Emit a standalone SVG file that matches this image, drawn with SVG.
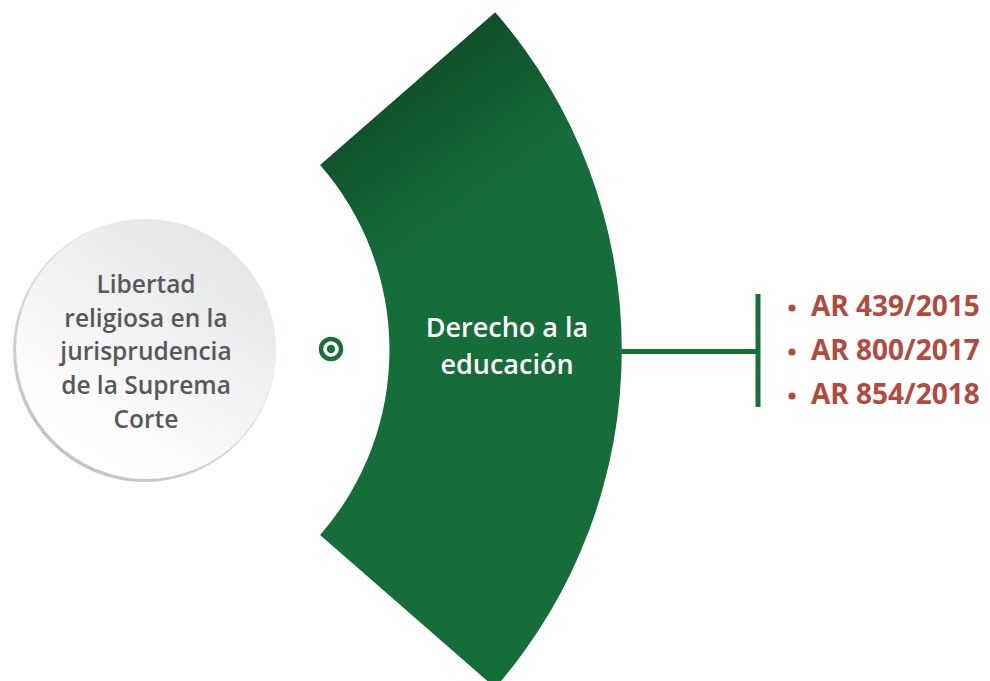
<svg xmlns="http://www.w3.org/2000/svg" width="990" height="681" viewBox="0 0 990 681">
  <style>
    .circ-text { font-family: "Open Sans", "Liberation Sans", sans-serif; font-weight: 600; font-size: 24.5px; fill: #58585a; text-anchor: middle; }
    .sec-text { font-family: "Open Sans", "Liberation Sans", sans-serif; font-weight: 600; font-size: 27px; fill: #ffffff; text-anchor: middle; }
    .item-text { font-family: "Open Sans", "Liberation Sans", sans-serif; font-weight: 700; font-size: 28px; fill: #b34a3f; }
    .bullet { fill: #b34a3f; }
    .conn { stroke: #17703a; stroke-width: 5; fill: none; }
  </style>
  <defs>
    <linearGradient id="secGrad" gradientUnits="userSpaceOnUse" x1="370" y1="70" x2="470" y2="210">
      <stop offset="0" stop-color="#0e4a27"/>
      <stop offset="1" stop-color="#156d3a"/>
    </linearGradient>
    <linearGradient id="circGrad" x1="0.8" y1="0.1" x2="0.3" y2="0.9">
      <stop offset="0" stop-color="#e5e6e7"/>
      <stop offset="1" stop-color="#ffffff"/>
    </linearGradient>
    <linearGradient id="rimGrad" x1="0.8" y1="0.1" x2="0.2" y2="0.9">
      <stop offset="0" stop-color="#f2f2f2"/>
      <stop offset="1" stop-color="#c4c4c4"/>
    </linearGradient>
  </defs>

  <rect width="990" height="681" fill="#ffffff"/>

  <g id="node-circle">
    <circle cx="144.5" cy="350.5" r="131.5" fill="url(#rimGrad)"/>
    <circle cx="146" cy="349" r="130" fill="url(#circGrad)"/>
    <text class="circ-text" x="146" y="293">Libertad</text>
    <text class="circ-text" x="146" y="327">religiosa en la</text>
    <text class="circ-text" x="146" y="360">jurisprudencia</text>
    <text class="circ-text" x="146" y="394">de la Suprema</text>
    <text class="circ-text" x="146" y="428">Corte</text>
  </g>

  <g id="node-icon">
    <circle cx="331" cy="349" r="10" fill="#ffffff" stroke="#17703a" stroke-width="4.5"/>
    <circle cx="331" cy="349" r="4.2" fill="#17703a"/>
  </g>

  <g id="node-sector">
    <path d="M 320.1 165 L 495.2 12.2 A 514 514 0 0 1 495.2 687.8 L 320.1 535 A 281.4 281.4 0 0 0 320.1 165 Z" fill="url(#secGrad)"/>
    <text class="sec-text" x="507" y="337">Derecho a la</text>
    <text class="sec-text" x="507" y="374">educación</text>
  </g>

  <g id="connectors">
    <line class="conn" x1="618" y1="351.5" x2="758" y2="351.5"/>
    <line class="conn" x1="758" y1="294" x2="758" y2="407"/>
  </g>

  <g id="node-list">
    <circle class="bullet" cx="792" cy="308" r="3.6"/>
    <text class="item-text" x="811" y="316">AR 439/2015</text>
    <circle class="bullet" cx="792" cy="352" r="3.6"/>
    <text class="item-text" x="811" y="360">AR 800/2017</text>
    <circle class="bullet" cx="792" cy="396" r="3.6"/>
    <text class="item-text" x="811" y="404">AR 854/2018</text>
  </g>
</svg>
